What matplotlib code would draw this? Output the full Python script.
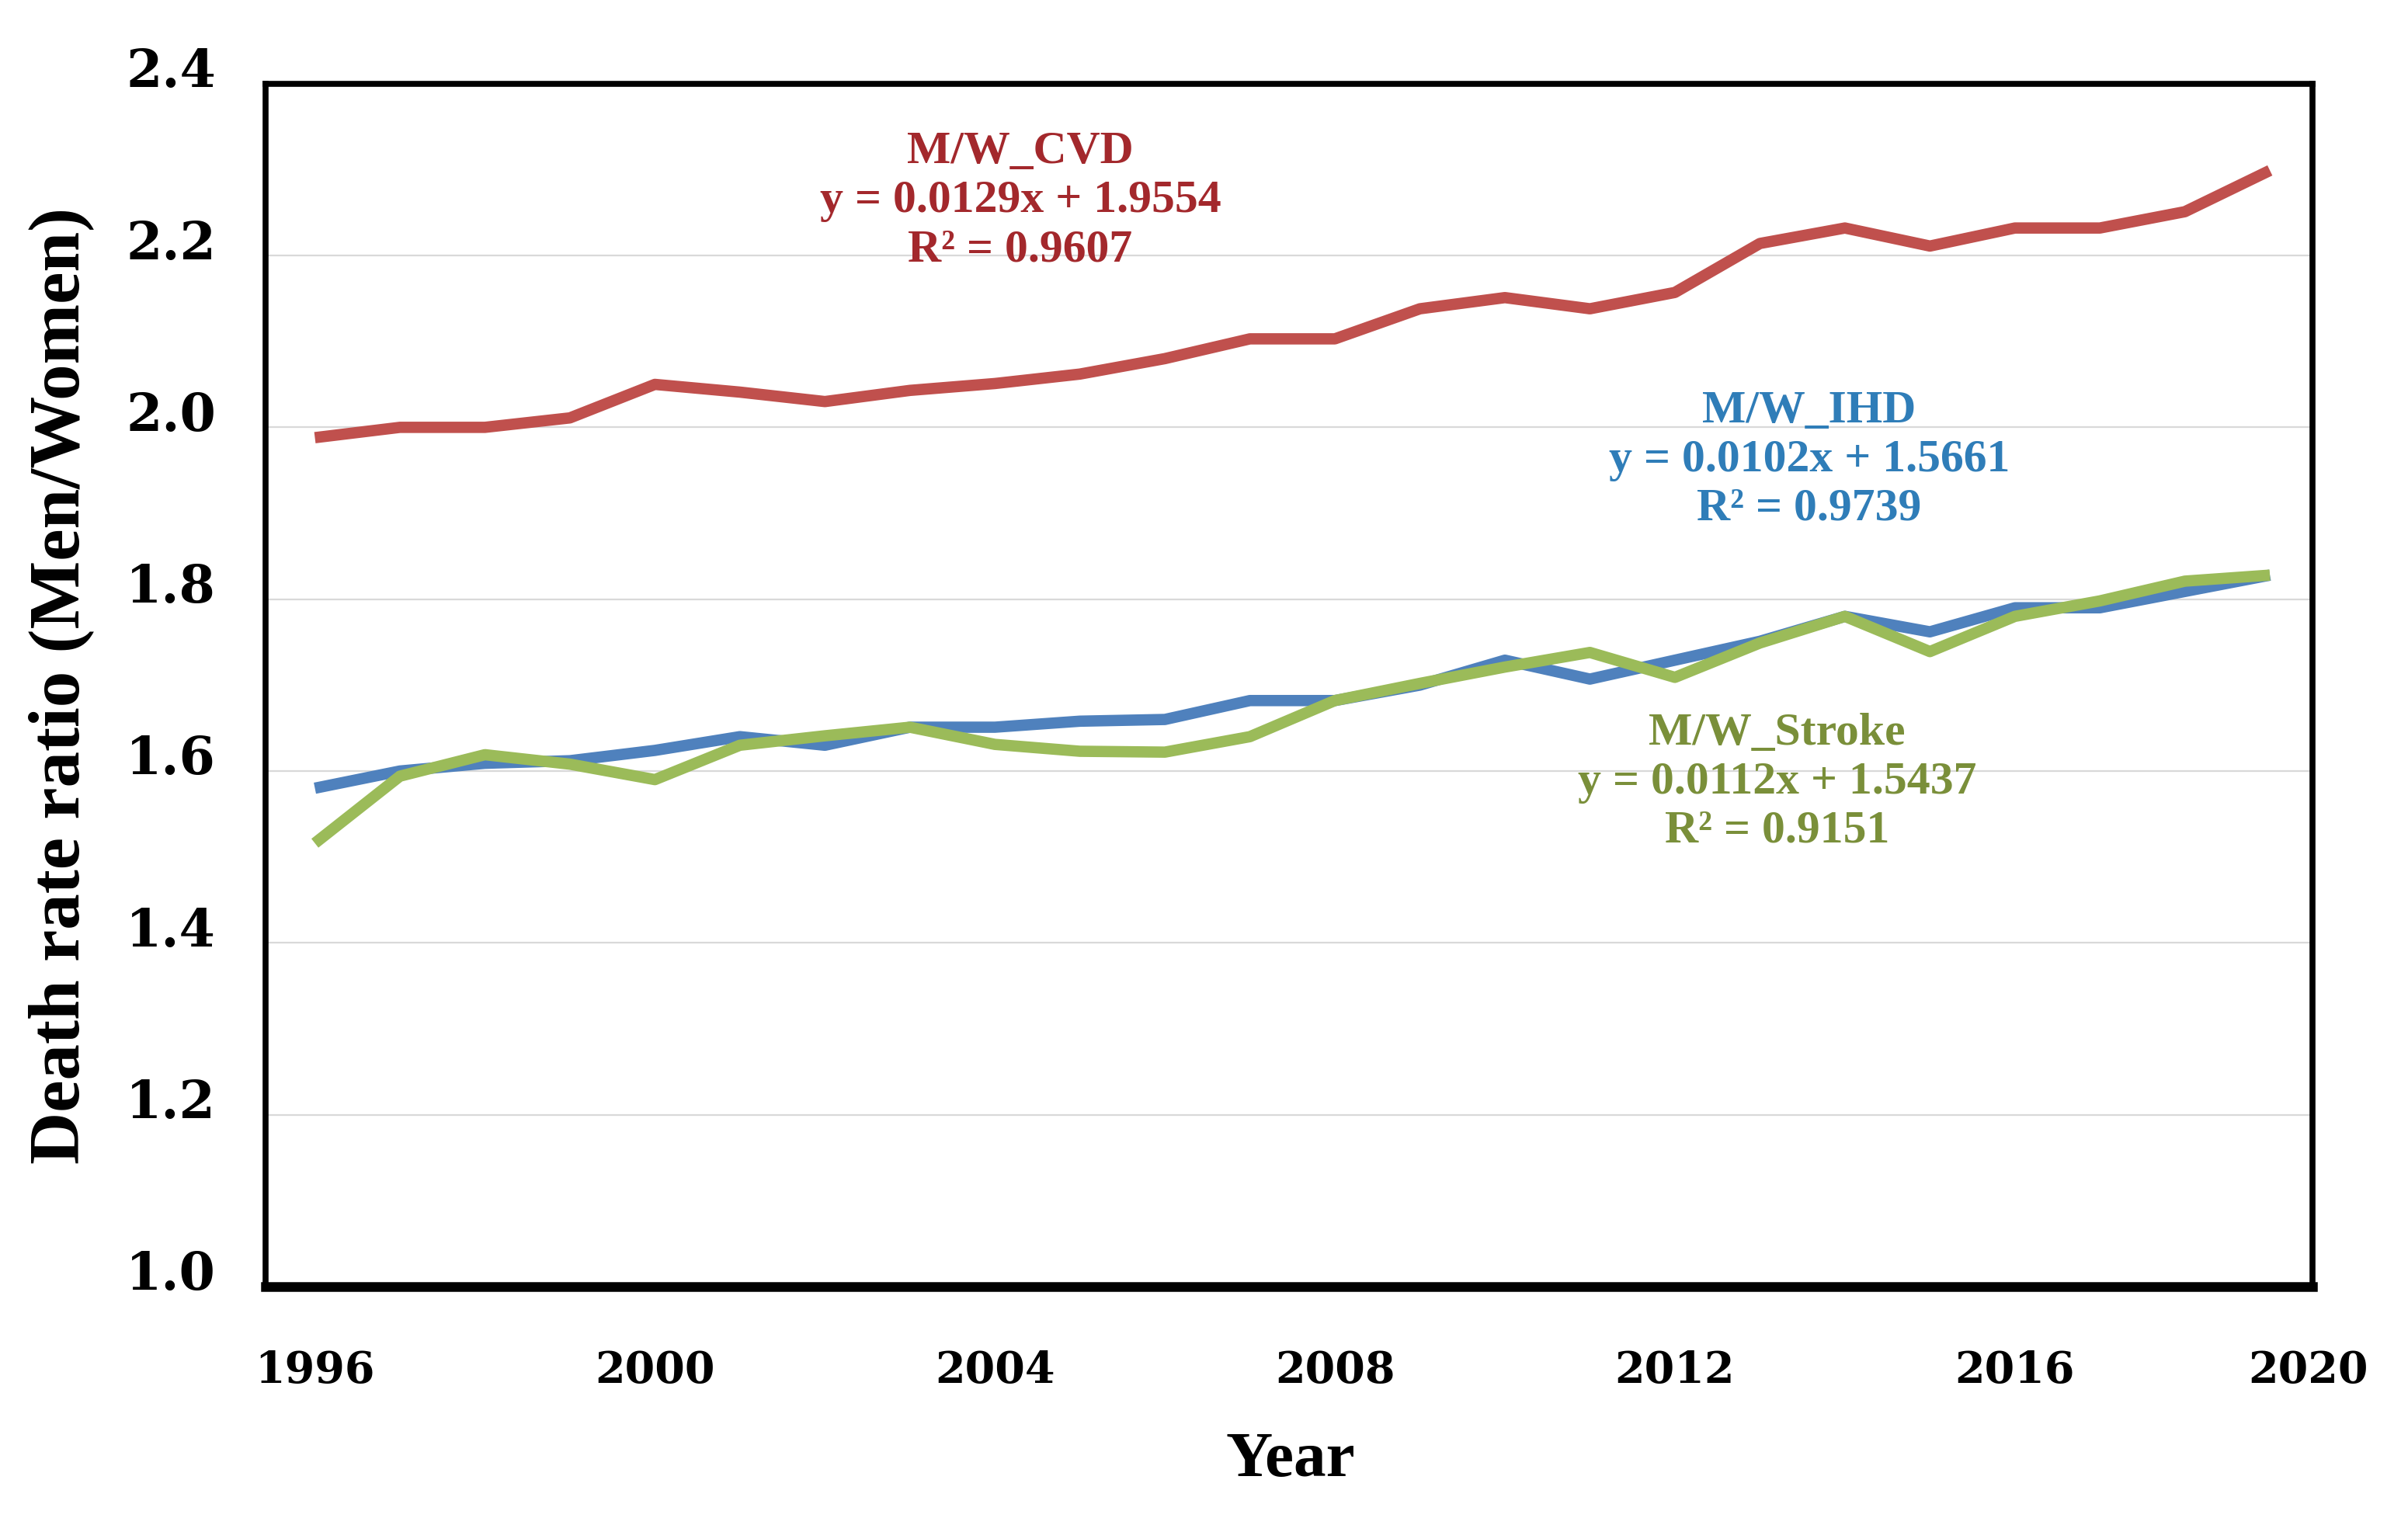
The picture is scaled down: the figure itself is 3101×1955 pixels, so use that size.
import numpy as np
import matplotlib
matplotlib.use('Agg')
import matplotlib.pyplot as plt
import matplotlib.transforms as mtransforms

years = list(range(1996, 2020))
cvd = [1.988, 2.000, 2.000, 2.011, 2.050, 2.041, 2.030, 2.043, 2.051, 2.062, 2.080, 2.103,
       2.103, 2.138, 2.151, 2.138, 2.157, 2.214, 2.232, 2.211, 2.232, 2.232, 2.251, 2.299]
ihd = [1.580, 1.600, 1.609, 1.612, 1.624, 1.640, 1.630, 1.651, 1.651, 1.658, 1.660, 1.682,
       1.682, 1.700, 1.729, 1.707, 1.729, 1.751, 1.780, 1.762, 1.790, 1.790, 1.809, 1.828]
stroke = [1.516, 1.594, 1.619, 1.608, 1.590, 1.630, 1.641, 1.651, 1.631, 1.623, 1.622, 1.640,
          1.682, 1.702, 1.721, 1.738, 1.709, 1.749, 1.780, 1.739, 1.780, 1.798, 1.821, 1.828]

series_names = ['M/W_CVD', 'M/W_IHD', 'M/W_Stroke']
fit_eq = ['y = 0.0129x + 1.9554', 'y = 0.0102x + 1.5661', 'y = 0.0112x + 1.5437']
fit_r2 = ['R² = 0.9607', 'R² = 0.9739', 'R² = 0.9151']

xtick_labels = ['1996', '2000', '2004', '2008', '2012', '2016', '2020']
ytick_values = [1.0, 1.2, 1.4, 1.6, 1.8, 2.0, 2.2, 2.4]

line_colors = ['#C0504D', '#4F81BD', '#9BBB59']
text_colors = ['#A3282C', '#2F7DB8', '#7A8F3A']

fig = plt.figure(figsize=(31.01, 19.56), dpi=100)
ax = fig.add_axes([0.1103, 0.1524, 0.850, 0.792])

for vals, c in zip([cvd, ihd, stroke], line_colors):
    ax.plot(years, vals, color=c, lw=10.5, solid_joinstyle='round', solid_capstyle='butt', zorder=3)

ax.set_xlim(1995.42, 2019.5)
ax.set_ylim(1.0, 2.4)
ax.set_yticks(ytick_values)
ax.set_yticklabels(['%.1f' % v for v in ytick_values])
ax.set_xticks([1996, 2000, 2004, 2008, 2012, 2016, 2019.45])
ax.set_xticklabels(xtick_labels)
ax.tick_params(length=0)
ax.tick_params(axis='y', pad=46, labelsize=48)
ax.tick_params(axis='x', pad=58, labelsize=40)
for lab in ax.get_xticklabels() + ax.get_yticklabels():
    lab.set_fontfamily('DejaVu Serif')
    lab.set_fontweight('bold')
offset = mtransforms.ScaledTranslation(0, 0.22, fig.dpi_scale_trans)
for lab in ax.get_yticklabels():
    lab.set_transform(lab.get_transform() + offset)

ax.grid(axis='y', color='#D9D9D9', lw=1.6, zorder=0)
ax.set_axisbelow(True)
for side in ['left', 'top', 'right']:
    ax.spines[side].set_linewidth(5.5)
ax.spines['bottom'].set_linewidth(9)

ax.set_ylabel('Death rate ratio (Men/Women)', fontsize=67, fontweight='bold', family='Liberation Serif')
ax.yaxis.set_label_coords(-0.084, 0.5)
ax.set_xlabel('Year', fontsize=60, fontweight='bold', family='Liberation Serif')
ax.xaxis.set_label_coords(0.5006, -0.12)

label_pos = [(2004.3, 2.264), (2013.58, 1.9625), (2013.2, 1.5875)]
for (tx, ty), n, e, r, c in zip(label_pos, series_names, fit_eq, fit_r2, text_colors):
    ax.text(tx, ty, n + '\n' + e + '\n' + r, color=c, fontsize=43, fontweight='bold',
            family='Liberation Serif', ha='center', va='center', linespacing=1.22, zorder=4)

fig.savefig('out.png', dpi=100, facecolor='white')
